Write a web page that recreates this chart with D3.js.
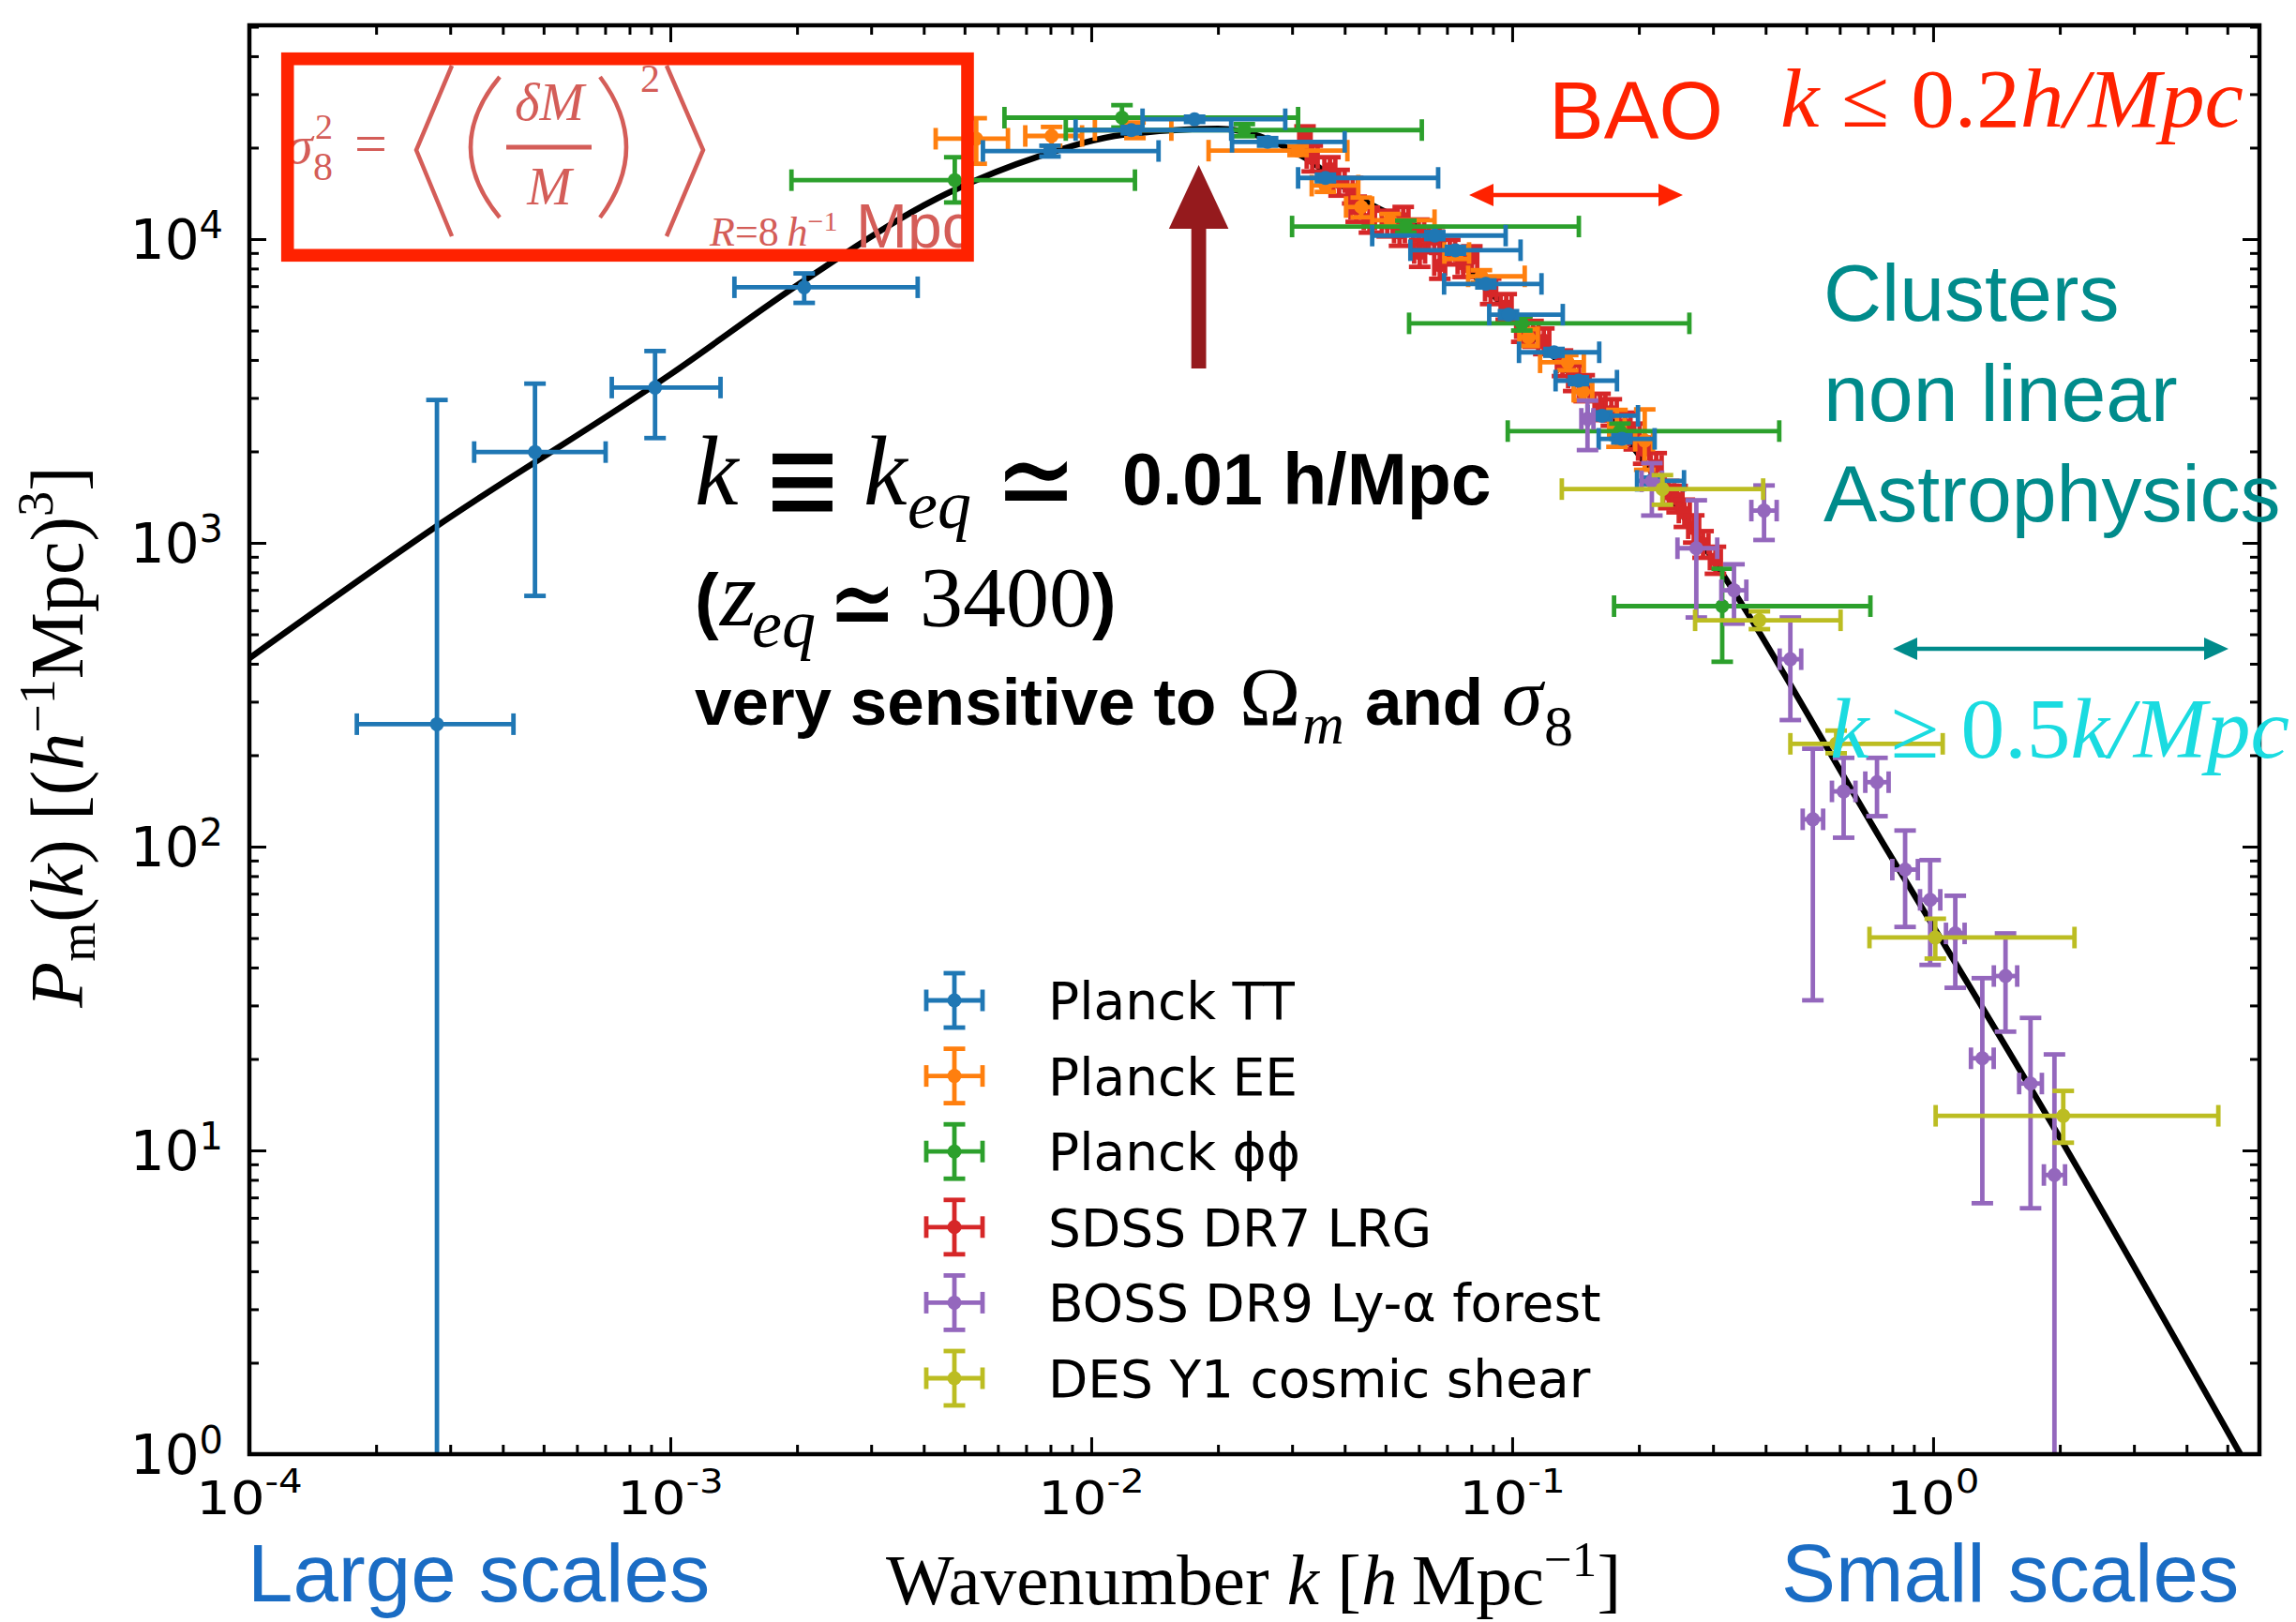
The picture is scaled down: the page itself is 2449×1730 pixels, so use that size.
<!DOCTYPE html>
<html>
<head>
<meta charset="utf-8">
<script src="https://cdn.jsdelivr.net/npm/d3@7"></script>
<style>
  body { margin: 0; background: #fff; }
  svg { display: block; }
</style>
</head>
<body>
<div id="chart"></div>
<script>
const fig_width = 2449,
      fig_height = 1730;
const plot = { left: 266, right: 2410, top: 27, bottom: 1551 };

// black theory curve
const curve_k = [1e-4, 2.79e-4, 1e-3, 2.08e-3, 4.3e-3, 7.5e-3, 0.012, 0.02, 0.0324, 0.0425, 0.0655, 0.098, 0.18, 0.3015, 0.75, 1.922, 5.37];
const curve_p = [417, 1136, 3586, 7300, 13600, 18700, 22100, 23100, 18430, 13900, 10000, 5800, 2350, 872, 106, 12.1, 1];

// rows: [k, P, k_lo, k_hi, P_lo, P_hi]
const planck_tt = [
  [2.79e-4, 253, 1.80e-4, 4.24e-4, 0.1, 2954],
  [4.77e-4, 1990, 3.42e-4, 7.02e-4, 669, 3343],
  [9.2e-4, 3246, 7.26e-4, 1.316e-3, 2213, 4280],
  [2.08e-3, 6940, 1.42e-3, 3.87e-3, 6166, 7710],
  [7.98e-3, 19500, 5.53e-3, 0.01445, 18700, 20300],
  [0.01245, 22850, 9.18e-3, 0.0215, 22300, 23400],
  [0.0176, 24800, 0.01324, 0.0289, 24300, 25300],
  [0.02624, 20900, 0.0216, 0.040, 20300, 21500],
  [0.036, 15900, 0.031, 0.0667, 15500, 16300],
  [0.0655, 10270, 0.0465, 0.0965, 10000, 10550],
  [0.0733, 9190, 0.0573, 0.1047, 8950, 9430],
  [0.0866, 7120, 0.0689, 0.1174, 6930, 7310],
  [0.098, 5640, 0.0882, 0.1319, 5490, 5790],
  [0.1257, 4240, 0.1038, 0.161, 4130, 4350],
  [0.1437, 3420, 0.1268, 0.1774, 3330, 3510],
  [0.1635, 2620, 0.151, 0.199, 2550, 2690],
  [0.1822, 2200, 0.1605, 0.218, 2140, 2260],
  [0.214, 1600, 0.198, 0.256, 1560, 1640]
];
const planck_ee = [
  [5.33e-3, 21400, 4.27e-3, 6.34e-3, 17700, 25000],
  [8.05e-3, 21850, 6.97e-3, 9.51e-3, 20300, 23400],
  [0.0127, 22850, 0.0102, 0.0155, 21500, 24200],
  [0.031, 19550, 0.019, 0.0406, 18900, 20200],
  [0.036, 15000, 0.0334, 0.0431, 14300, 15700],
  [0.0438, 12750, 0.0403, 0.0465, 11800, 13700],
  [0.0513, 11540, 0.0465, 0.0654, 11000, 12100],
  [0.074, 9000, 0.069, 0.079, 8600, 9400],
  [0.0845, 7540, 0.0786, 0.1071, 7200, 7900],
  [0.1093, 4750, 0.104, 0.115, 4450, 5050],
  [0.1355, 3930, 0.1165, 0.148, 3700, 4150],
  [0.1473, 3145, 0.140, 0.155, 2950, 3350],
  [0.1774, 2380, 0.170, 0.185, 2070, 2740],
  [0.2065, 2170, 0.196, 0.216, 1740, 2750]
];
const planck_phiphi = [
  [4.74e-3, 15630, 1.94e-3, 0.0127, 13200, 18600],
  [0.01183, 25100, 6.22e-3, 0.031, 23300, 27600],
  [0.0231, 22850, 8.7e-3, 0.061, 21800, 23900],
  [0.0559, 11000, 0.030, 0.144, 10500, 11500],
  [0.1054, 5280, 0.0569, 0.2636, 5000, 5560],
  [0.1803, 2333, 0.0976, 0.431, 2200, 2470],
  [0.3155, 619, 0.1746, 0.7096, 406, 822]
];
// rows: [k, P, dk, dP]
const sdss_lrg = [
  [0.0322, 21500, 0.0010, 2000], [0.0335, 18500, 0.0010, 1800], [0.0369, 17000, 0.0011, 1600],
  [0.0388, 15400, 0.0012, 1500], [0.0418, 14500, 0.0012, 1400], [0.0426, 12600, 0.0013, 1200],
  [0.0458, 11600, 0.0014, 1100], [0.0505, 11300, 0.0015, 1100], [0.0540, 10500, 0.0016, 1000],
  [0.0551, 11660, 0.0016, 1100], [0.0600, 10600, 0.0018, 1000], [0.0603, 9000, 0.0018, 900],
  [0.0653, 10000, 0.0019, 950], [0.0673, 8200, 0.0020, 800], [0.0711, 9100, 0.0021, 850],
  [0.0765, 8300, 0.0023, 800], [0.0802, 8670, 0.0024, 800], [0.0889, 6760, 0.0027, 650],
  [0.0968, 6010, 0.0029, 580], [0.1054, 5090, 0.0032, 500], [0.1121, 4900, 0.0034, 480],
  [0.1189, 4630, 0.0036, 450], [0.1317, 3920, 0.0040, 380], [0.1400, 3500, 0.0042, 340],
  [0.1483, 3245, 0.0044, 320], [0.1617, 2816, 0.0048, 280], [0.1720, 2700, 0.0052, 270],
  [0.1854, 2443, 0.0056, 240], [0.1950, 2250, 0.0058, 220], [0.2053, 2021, 0.0062, 200],
  [0.2199, 1795, 0.0066, 180], [0.2355, 1450, 0.0071, 150], [0.2465, 1400, 0.0074, 140],
  [0.2565, 1258, 0.0077, 130], [0.2700, 1117, 0.0081, 115], [0.2841, 993, 0.0085, 100],
  [0.3040, 881, 0.0091, 90]
];
const boss_lya = [
  [0.151, 2560, 0.146, 0.156, 2020, 2940],
  [0.2147, 1595, 0.203, 0.227, 1230, 1830],
  [0.2738, 960, 0.247, 0.307, 568, 1381],
  [0.3365, 698, 0.314, 0.360, 542, 850],
  [0.3966, 1277, 0.370, 0.425, 1022, 1545],
  [0.458, 414, 0.432, 0.486, 261, 568],
  [0.518, 123, 0.490, 0.548, 31.2, 210],
  [0.613, 152, 0.575, 0.654, 107, 196],
  [0.7357, 163, 0.690, 0.784, 126, 196],
  [0.858, 84, 0.80, 0.92, 54.4, 113],
  [0.984, 66.8, 0.931, 1.04, 40.8, 90.3],
  [1.129, 51.8, 1.073, 1.188, 34.3, 68.9],
  [1.309, 20.1, 1.23, 1.393, 6.7, 36.9],
  [1.486, 37.5, 1.394, 1.584, 24.6, 51.8],
  [1.704, 16.6, 1.601, 1.813, 6.45, 27.3],
  [1.942, 8.3, 1.833, 2.058, 0.5, 20.7]
];
const des_y1 = [
  [0.2275, 1503, 0.1312, 0.3947, 1335, 1671],
  [0.3867, 556, 0.272, 0.6028, 520, 595],
  [0.5884, 218, 0.458, 1.054, 203, 241],
  [1.012, 50.2, 0.706, 2.167, 42.8, 57.9],
  [2.038, 13.0, 1.014, 4.76, 10.6, 15.7]
];

const legend_names = ["Planck TT", "Planck EE", "Planck \u03D5\u03D5", "SDSS DR7 LRG", "BOSS DR9 Ly-\u03B1 forest", "DES Y1 cosmic shear"];
const legend_colors = ["#1f77b4", "#ff7f0e", "#2ca02c", "#d62728", "#9467bd", "#bcbd22"];

const x_domain = [1e-4, 5.96],
      y_domain = [1, 50550];

const serif = "'Liberation Serif', 'DejaVu Serif', serif",
      sans = "'Liberation Sans', Arial, sans-serif",
      dejavu = "'DejaVu Sans', sans-serif";

const bar_width = 4.8,
      cap_size = 11.5,
      dot_radius = 7.5;

function create_svg(tag) {
  return d3.select(tag)
    .append("svg")
      .attr("width", fig_width)
      .attr("height", fig_height)
      .attr("viewBox", `0 0 ${fig_width} ${fig_height}`)
      .style("background", "#fff");
};

const is_decade = (t) => Math.abs(Math.log10(t) - Math.round(Math.log10(t))) < 1e-6;

function draw_axes(svg, x, y) {
  const x_all = x.ticks(), y_all = y.ticks();
  const x_major = x_all.filter(is_decade), x_minor = x_all.filter(t => !is_decade(t));
  const y_major = y_all.filter(is_decade), y_minor = y_all.filter(t => !is_decade(t));

  const clean = (g) => {
    g.select(".domain").remove();
    g.selectAll(".tick text").remove();
    g.selectAll(".tick line").attr("stroke-width", 3);
  };
  const specs = [
    [d3.axisBottom(x), x_major, x_minor, `translate(0,${plot.bottom})`],
    [d3.axisTop(x), x_major, x_minor, `translate(0,${plot.top})`],
    [d3.axisLeft(y), y_major, y_minor, `translate(${plot.left},0)`],
    [d3.axisRight(y), y_major, y_minor, `translate(${plot.right},0)`]
  ];
  specs.forEach(([axis, major, minor, tr]) => {
    svg.append("g").attr("transform", tr)
      .call(axis.tickValues(major).tickSize(-18)).call(clean);
    svg.append("g").attr("transform", tr)
      .call(axis.tickValues(minor).tickSize(-10)).call(clean);
  });

  svg.append("rect")
    .attr("x", plot.left).attr("y", plot.top)
    .attr("width", plot.right - plot.left).attr("height", plot.bottom - plot.top)
    .attr("fill", "none").attr("stroke", "#000").attr("stroke-width", 4.5);

  const expo = (d) => {
    const e = Math.round(Math.log10(d));
    return e < 0 ? "-" + Math.abs(e) : String(e);
  };

  // x tick labels
  svg.append("g").selectAll("g")
    .data(x_major)
    .join("g")
      .attr("transform", d => `translate(${x(d)},1615) scale(1.15,1)`)
      .append("text")
        .attr("text-anchor", "middle")
        .attr("font-family", dejavu)
        .attr("font-size", 50)
        .attr("fill", "#000")
        .call(t => t.append("tspan").text("10"))
        .call(t => t.append("tspan").attr("font-size", 35).attr("dy", -23).text(expo));

  // y tick labels
  svg.append("g").selectAll("text")
    .data(y_major)
    .join("text")
      .attr("x", 238)
      .attr("y", d => y(d) + 21)
      .attr("text-anchor", "end")
      .attr("font-family", dejavu)
      .attr("font-size", 58)
      .attr("fill", "#000")
      .call(t => t.append("tspan").text("10"))
      .call(t => t.append("tspan").attr("font-size", 40).attr("dy", -22).text(expo));
}

function errorbar_glyph(p, cx, cy, xl, xr, yl, yh) {
  p.append("line").attr("x1", xl).attr("x2", xr).attr("y1", cy).attr("y2", cy);
  p.append("line").attr("x1", cx).attr("x2", cx).attr("y1", yl).attr("y2", yh);
  [xl, xr].forEach(v => p.append("line").attr("x1", v).attr("x2", v).attr("y1", cy - cap_size).attr("y2", cy + cap_size));
  [yl, yh].forEach(v => p.append("line").attr("x1", cx - cap_size).attr("x2", cx + cap_size).attr("y1", v).attr("y2", v));
  p.append("circle").attr("cx", cx).attr("cy", cy).attr("r", dot_radius).attr("stroke", "none");
}

function draw_errorbars(layer, rows, color, x, y) {
  const g = layer.append("g")
    .attr("stroke", color)
    .attr("fill", color)
    .attr("stroke-width", bar_width);
  g.selectAll("g")
    .data(rows)
    .join("g")
      .each(function (d) {
        errorbar_glyph(d3.select(this), x(d[0]), y(d[1]), x(d[2]), x(d[3]), y(d[4]), y(d[5]));
      });
}

function draw_data(svg, x, y) {
  svg.append("defs").append("clipPath").attr("id", "plot-clip")
    .append("rect")
      .attr("x", plot.left).attr("y", plot.top)
      .attr("width", plot.right - plot.left).attr("height", plot.bottom - plot.top);
  const layer = svg.append("g").attr("clip-path", "url(#plot-clip)");

  const line = d3.line()
    .x(d => x(d[0]))
    .y(d => y(d[1]))
    .curve(d3.curveMonotoneX);
  layer.append("path")
    .datum(curve_k.map((k, i) => [k, curve_p[i]]))
    .attr("d", line)
    .attr("fill", "none")
    .attr("stroke", "#000")
    .attr("stroke-width", 6.5);

  const sdss_rows = sdss_lrg.map(r => [r[0], r[1], r[0] - r[2], r[0] + r[2], r[1] - r[3], r[1] + r[3]]);
  draw_errorbars(layer, sdss_rows, legend_colors[3], x, y);
  draw_errorbars(layer, planck_ee, legend_colors[1], x, y);
  draw_errorbars(layer, planck_phiphi, legend_colors[2], x, y);
  draw_errorbars(layer, planck_tt, legend_colors[0], x, y);
  draw_errorbars(layer, boss_lya, legend_colors[4], x, y);
  draw_errorbars(layer, des_y1, legend_colors[5], x, y);
}

function draw_legend(svg) {
  const row_y = d3.scalePoint().domain(legend_names).range([1067, 1470]);
  const rows = svg.append("g").selectAll("g")
    .data(legend_names)
    .join("g")
      .attr("transform", d => `translate(1018,${row_y(d)})`);
  rows.each(function (d, i) {
    const m = d3.select(this).append("g")
      .attr("stroke", legend_colors[i]).attr("fill", legend_colors[i]).attr("stroke-width", bar_width);
    errorbar_glyph(m, 0, 0, -30, 30, 29, -29);
  });
  rows.append("text")
    .attr("x", 100)
    .attr("y", 20)
    .attr("font-family", dejavu)
    .attr("font-size", 55)
    .attr("fill", "#000")
    .text(d => d);
}

function add_text(g, x, y, str, opts) {
  const t = g.append("text").attr("x", x).attr("y", y).text(str)
    .attr("font-family", opts.family || serif)
    .attr("font-size", opts.size)
    .attr("fill", opts.fill || "#000");
  if (opts.italic) t.attr("font-style", "italic");
  if (opts.bold) t.attr("font-weight", "bold");
  if (opts.anchor) t.attr("text-anchor", opts.anchor);
  if (opts.length) t.attr("textLength", opts.length).attr("lengthAdjust", "spacingAndGlyphs");
  return t;
}

// relation symbol stretched to the size used in the picture, centred on (cx, cy)
function add_symbol(g, cx, cy, str, sx, sy) {
  g.append("g")
    .attr("transform", `translate(${cx},${cy}) scale(${sx},${sy})`)
    .append("text")
      .attr("text-anchor", "middle")
      .attr("dominant-baseline", "central")
      .attr("font-family", dejavu)
      .attr("font-size", 60)
      .attr("fill", "#000")
      .text(str);
}

function double_arrow(g, x1, x2, yy, color) {
  g.append("line").attr("x1", x1 + 20).attr("x2", x2 - 20).attr("y1", yy).attr("y2", yy)
    .attr("stroke", color).attr("stroke-width", 4.5);
  g.append("path").attr("fill", color)
    .attr("d", `M${x1},${yy} L${x1 + 26},${yy - 12} L${x1 + 26},${yy + 12} Z M${x2},${yy} L${x2 - 26},${yy - 12} L${x2 - 26},${yy + 12} Z`);
}

function draw_annotations(svg) {
  const g = svg.append("g");
  const f_col = "#d45d58";

  // sigma_8 formula
  add_text(g, 305, 174, "\u03C3", { italic: true, size: 58, fill: f_col });
  add_text(g, 334, 192, "8", { size: 42, fill: f_col });
  add_text(g, 336, 148, "2", { size: 38, fill: f_col });
  add_text(g, 378, 174, "=", { size: 62, fill: f_col });
  const br = g.append("g").attr("fill", "none").attr("stroke", f_col).attr("stroke-width", 4.5);
  br.append("path").attr("d", "M482,70 L444,160 L482,252");
  br.append("path").attr("d", "M533,82 Q471,157 533,232");
  br.append("path").attr("d", "M640,82 Q696,157 640,232");
  br.append("path").attr("d", "M711,70 L750,160 L711,252");
  g.append("line").attr("x1", 540).attr("x2", 631).attr("y1", 157).attr("y2", 157)
    .attr("stroke", f_col).attr("stroke-width", 5);
  add_text(g, 586, 128, "\u03B4M", { italic: true, size: 57, fill: f_col, anchor: "middle" });
  add_text(g, 586, 218, "M", { italic: true, size: 57, fill: f_col, anchor: "middle" });
  add_text(g, 683, 98, "2", { size: 42, fill: f_col });
  const sub = add_text(g, 757, 262, "", { size: 44, fill: f_col });
  sub.append("tspan").attr("font-style", "italic").text("R");
  sub.append("tspan").text("=8\u2009");
  sub.append("tspan").attr("font-style", "italic").text("h");
  sub.append("tspan").attr("font-size", 30).attr("dy", -16).text("\u22121");
  add_text(g, 913, 264, "Mpc", { family: sans, size: 66, fill: f_col });

  // red box on top of formula
  g.append("rect")
    .attr("x", 306.7).attr("y", 62.7).attr("width", 725.3).attr("height", 209.6)
    .attr("fill", "none").attr("stroke", "#ff2200").attr("stroke-width", 13.6);

  // k_eq arrow
  g.append("path").attr("fill", "#951a1d")
    .attr("d", "M1270.7,393 L1270.7,244 L1246.8,244 L1278.6,176 L1310.4,244 L1286.5,244 L1286.5,393 Z");

  add_text(g, 741, 538, "k", { italic: true, size: 105 });
  add_symbol(g, 856, 510, "\u2261", 1.7, 2.3);
  add_text(g, 921, 538, "k", { italic: true, size: 105 });
  add_text(g, 968, 563, "eq", { italic: true, size: 72 });
  add_symbol(g, 1105, 511, "\u2243", 1.75, 2.2);
  add_text(g, 1197, 538, "0.01 h/Mpc", { family: sans, bold: true, size: 77 });

  add_text(g, 741, 667, "(", { family: sans, bold: true, size: 77 });
  add_text(g, 768, 667, "z", { italic: true, size: 100 });
  add_text(g, 802, 690, "eq", { italic: true, size: 72 });
  add_symbol(g, 920, 642, "\u2243", 1.45, 1.95);
  add_text(g, 981, 668, "3400", { size: 92 });
  add_text(g, 1165, 667, ")", { family: sans, bold: true, size: 77 });

  add_text(g, 741, 773, "very sensitive to", { family: sans, bold: true, size: 71 });
  add_text(g, 1322, 773, "\u03A9", { size: 88 });
  add_text(g, 1389, 793, "m", { italic: true, size: 62 });
  add_text(g, 1456, 773, "and", { family: sans, bold: true, size: 71 });
  add_text(g, 1602, 773, "\u03C3", { italic: true, size: 88 });
  add_text(g, 1647, 795, "8", { size: 62 });

  // BAO
  add_text(g, 1652, 148, "BAO", { family: sans, size: 88, fill: "#ff2200" });
  const bao_k = add_text(g, 1899, 135, "", { size: 88, fill: "#ff2200", length: 494 });
  bao_k.append("tspan").attr("font-style", "italic").text("k");
  bao_k.append("tspan").text(" \u2264 0.2");
  bao_k.append("tspan").attr("font-style", "italic").text("h/Mpc");
  double_arrow(g, 1567, 1795, 208, "#ff2200");

  // clusters
  const teal = "#008b8b";
  ["Clusters", "non linear", "Astrophysics"].forEach((s, i) =>
    add_text(g, 1945, 342 + i * 107, s, { family: sans, size: 86, fill: teal }));
  double_arrow(g, 2019, 2377, 692, teal);
  const nl_k = add_text(g, 1952, 808, "", { size: 90, fill: "#1adbe0", length: 490 });
  nl_k.append("tspan").attr("font-style", "italic").text("k");
  nl_k.append("tspan").text(" \u2265 0.5");
  nl_k.append("tspan").attr("font-style", "italic").text("k/Mpc");

  // bottom labels
  add_text(g, 264, 1708, "Large scales", { family: sans, size: 87, fill: "#1a6cc4" });
  add_text(g, 1900, 1708, "Small scales", { family: sans, size: 87, fill: "#1a6cc4" });

  const xl = add_text(g, 945, 1711, "", { size: 77 });
  xl.append("tspan").text("Wavenumber ");
  xl.append("tspan").attr("font-style", "italic").text("k");
  xl.append("tspan").text(" [");
  xl.append("tspan").attr("font-style", "italic").text("h");
  xl.append("tspan").text("\u2009Mpc");
  xl.append("tspan").attr("font-size", 53).attr("dy", -30).text("\u22121");
  xl.append("tspan").attr("dy", 30).text("]");

  const yl = g.append("text")
    .attr("transform", "translate(88,786) rotate(-90)")
    .attr("text-anchor", "middle")
    .attr("font-family", serif)
    .attr("font-size", 80);
  yl.append("tspan").attr("font-style", "italic").text("P");
  yl.append("tspan").attr("font-size", 54).attr("dy", 13).text("m");
  yl.append("tspan").attr("dy", -13).text("(");
  yl.append("tspan").attr("font-style", "italic").text("k");
  yl.append("tspan").text(") [(");
  yl.append("tspan").attr("font-style", "italic").text("h");
  yl.append("tspan").attr("font-size", 54).attr("dy", -30).text("\u22121");
  yl.append("tspan").attr("dy", 30).text("Mpc)");
  yl.append("tspan").attr("font-size", 54).attr("dy", -32).text("3");
  yl.append("tspan").attr("dy", 32).text("]");
}

function instance_chart() {
  const svg = create_svg("#chart");
  const x = d3.scaleLog().domain(x_domain).range([plot.left, plot.right]);
  const y = d3.scaleLog().domain(y_domain).range([plot.bottom, plot.top]);
  draw_data(svg, x, y);
  draw_axes(svg, x, y);
  draw_legend(svg);
  draw_annotations(svg);
}

instance_chart();
</script>
</body>
</html>
